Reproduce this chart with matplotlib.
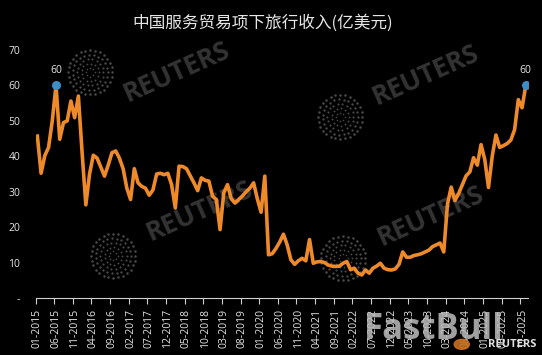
import numpy as np
import matplotlib
matplotlib.use("Agg")
import matplotlib.pyplot as plt

plt.rcParams['font.family'] = ['Open Sans', 'Noto Sans CJK SC', 'DejaVu Sans']

# monthly travel receipts, 01-2015 .. 12-2025 (100m USD)
values = [
    45.7, 35.2, 40.2, 42.5, 50.0, 60.0, 44.8, 49.5, 50.0, 55.6, 50.9, 57.0,   # 2015
    41.0, 26.3, 35.0, 40.3, 39.5, 37.0, 34.4, 37.5, 41.0, 41.5, 39.5, 36.5,   # 2016
    31.0, 27.8, 36.5, 32.5, 31.5, 31.0, 29.0, 30.5, 35.0, 35.2, 34.8, 35.2,   # 2017
    32.0, 25.4, 37.2, 37.1, 36.5, 34.5, 32.5, 30.3, 33.9, 33.2, 33.0, 28.7,   # 2018
    27.8, 19.3, 29.7, 32.0, 28.0, 26.8, 27.8, 28.8, 30.0, 31.0, 32.5, 28.0,   # 2019
    24.2, 34.4, 12.2, 12.5, 14.0, 15.8, 18.0, 15.0, 10.8, 9.5, 10.5, 11.2,    # 2020
    10.5, 16.5, 9.8, 10.2, 10.3, 10.0, 9.3, 9.0, 8.9, 9.0, 9.8, 10.3,         # 2021
    8.0, 8.4, 7.0, 6.5, 7.9, 7.0, 8.4, 9.0, 9.8, 8.4, 8.0, 7.9,               # 2022
    8.2, 9.5, 13.0, 11.5, 11.5, 12.0, 12.2, 12.5, 13.0, 13.5, 14.5, 15.0,     # 2023
    15.5, 13.0, 26.5, 31.3, 27.5, 29.5, 32.0, 34.5, 35.6, 39.6, 37.5, 43.3,   # 2024
    39.1, 31.2, 40.0, 46.0, 42.5, 43.0, 43.6, 44.6, 47.5, 56.0, 53.7, 60.0,   # 2025
]
months = [f"{m:02d}-{y}" for y in range(2015, 2026) for m in range(1, 13)]
label_step = 5
highlight = [5, len(values) - 1]
y_ticks = [0, 10, 20, 30, 40, 50, 60, 70]
y_labels = ["-", "10", "20", "30", "40", "50", "60", "70"]
title = "中国服务贸易项下旅行收入(亿美元)"

bg = "black"
txt = "#e6e6e6"
orange = "#ee8a2a"
blue = "#3a8fc8"

fig = plt.figure(figsize=(5.42, 3.55), dpi=100, facecolor=bg)
ax = fig.add_axes([0.0655, 0.1606, 0.908, 0.6985], facecolor=bg)

x = np.arange(len(values))

# watermarks
for wx, wy in [(0.286, 0.91), (0.792, 0.90), (0.334, 0.35), (0.802, 0.33)]:
    ax.text(wx, wy, "REUTERS", transform=ax.transAxes, rotation=24,
            fontsize=19, fontweight="bold", color="#333333",
            ha="center", va="center", zorder=0, clip_on=False)
for cx, cy in [(0.111, 0.91), (0.158, 0.17), (0.619, 0.73), (0.625, 0.16)]:
    for r, n in [(0.2, 8), (0.4, 13), (0.6, 18), (0.8, 23), (1.0, 28)]:
        t = np.linspace(0, 2 * np.pi, n, endpoint=False)
        ax.scatter(cx + r * 0.045 * np.cos(t), cy + r * 0.089 * np.sin(t),
                   s=2.5 * r + 0.8, color="#4a4a4a", transform=ax.transAxes,
                   zorder=0, linewidths=0, clip_on=False)

ax.plot(x, values, color=orange, lw=2.6, zorder=3, solid_joinstyle="round")
hx = np.array(highlight)
hy = np.array([values[i] for i in highlight])
ax.scatter(hx, hy, s=30, color=blue, zorder=4)
for i in highlight:
    ax.annotate(f"{values[i]:.0f}", (i, values[i]), xytext=(0, 7),
                textcoords="offset points", ha="center", va="bottom",
                fontsize=7.5, color=txt)

ax.set_xlim(-0.5, len(values) - 0.5)
ax.set_ylim(0, 70)
ax.set_yticks(y_ticks)
ax.set_yticklabels(y_labels)
ax.tick_params(axis="y", length=0, pad=11, colors=txt, labelsize=7.5)

lab_pos = list(range(0, len(values), label_step))
ax.set_xticks(lab_pos)
ax.set_xticklabels([months[i] for i in lab_pos], rotation=90)
ax.tick_params(axis="x", which="major", length=0, pad=8, colors=txt, labelsize=7.5)
ax.set_xticks([p - 0.5 for p in lab_pos], minor=True)
ax.tick_params(axis="x", which="minor", length=4, width=0.8, color="#d0d0d0", direction="out")

for s in ["top", "right", "left"]:
    ax.spines[s].set_visible(False)
ax.spines["bottom"].set_color("#d0d0d0")
ax.spines["bottom"].set_linewidth(0.8)

fig.text(0.485, 0.935, title, ha="center", va="center", fontsize=12,
         color=txt, family=["Noto Sans CJK SC", "DejaVu Sans"])

# source logos
fig.text(0.80, 0.07, "FastBull", ha="center", va="center", fontsize=25,
         fontweight="bold", color="#bdbdbd", alpha=0.85)
fig.text(0.945, 0.03, "REUTERS", ha="center", va="center", fontsize=8,
         fontweight="bold", color="#e0e0e0")
fig.patches.append(plt.Circle((0.852, 0.03), 0.014, transform=fig.transFigure,
                              color="#c8701e", zorder=5, alpha=0.9))

fig.savefig("out.png", dpi=100, facecolor=bg)
